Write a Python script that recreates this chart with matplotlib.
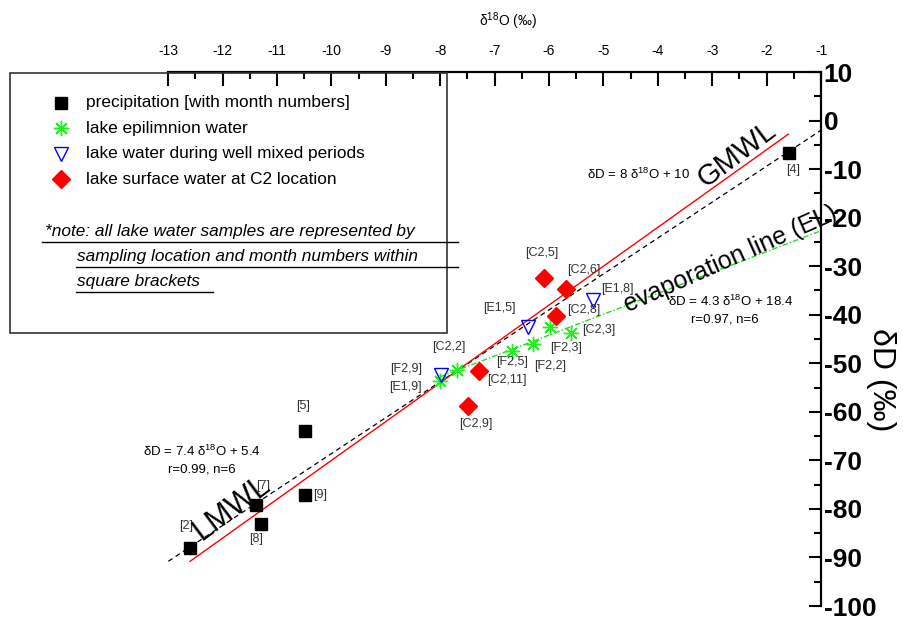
import matplotlib
matplotlib.use("Agg")
import matplotlib.pyplot as plt
from matplotlib.patches import Rectangle
from matplotlib.lines import Line2D
from matplotlib.ticker import MultipleLocator

plt.rcParams['font.family'] = ['Liberation Sans', 'DejaVu Sans']
plt.rcParams['axes.unicode_minus'] = False
plt.rcParams['mathtext.fontset'] = 'custom'
plt.rcParams['mathtext.rm'] = 'Liberation Sans'
plt.rcParams['mathtext.it'] = 'Liberation Sans:italic'
plt.rcParams['mathtext.bf'] = 'Liberation Sans:bold'

# precipitation, month numbers
precip_labels = ['[2]', '[7]', '[8]', '[5]', '[9]', '[4]']
precip_x = [-12.60, -11.39, -11.30, -10.49, -10.49, -1.58]
precip_y = [-88.0, -79.1, -83.1, -64.0, -77.1, -6.6]
precip_off = [(-4, 22), (7, 19), (-5, -15), (-2, 25), (15, 0), (4, -17)]

# lake epilimnion water
epi_labels = ['[F2,9]', '[C2,2]', '[F2,5]', '[F2,2]', '[F2,3]', '[C2,3]']
epi_x = [-8.00, -7.69, -6.68, -6.29, -5.98, -5.60]
epi_y = [-53.7, -51.3, -47.4, -46.0, -42.5, -43.7]
epi_off = [(-34, 12), (-8, 23), (0, -11), (17, -22), (16, -21), (28, 3)]

# well mixed periods
mixed_labels = ['[E1,9]', '[E1,5]', '[E1,8]']
mixed_x = [-7.99, -6.39, -5.19]
mixed_y = [-52.5, -42.5, -37.0]
mixed_off = [(-35, -12), (-28, 19), (24, 11)]

# surface water at C2
c2_labels = ['[C2,5]', '[C2,6]', '[C2,8]', '[C2,11]', '[C2,9]']
c2_x = [-6.09, -5.69, -5.88, -7.29, -7.49]
c2_y = [-32.5, -34.8, -40.2, -51.5, -58.9]
c2_off = [(-2, 25), (18, 19), (28, 6), (28, -9), (8, -18)]

# line end points
lmwl_x = [-13.0, -1.0]
lmwl_y = [-90.8, -2.0]
gmwl_x = [-12.6, -1.6]
gmwl_y = [-90.8, -2.8]
el_x = [-8.0, -1.0]
el_y = [-52.8, -22.7]

W, H = 904, 620
fig = plt.figure(figsize=(9.04, 6.2), dpi=100)
ax = fig.add_axes([168.3 / W, 14 / H, (821 - 168.3) / W, 534 / H])
ax.set_xlim(-13, -1)
ax.set_ylim(-100, 10)

ax.plot(lmwl_x, lmwl_y, color='black', lw=0.9, ls=(0, (4, 3)))
ax.plot(gmwl_x, gmwl_y, color='red', lw=1.0)
ax.plot(el_x, el_y, color='#22dd22', lw=1.0, ls=(0, (4, 1.5, 1, 1.5)))

ax.plot(precip_x, precip_y, ls='none', marker='s', ms=8, color='black')
ax.plot(epi_x, epi_y, ls='none', marker=(8, 2, 0), ms=11, mew=1.0, color='#22ee22')
ax.plot(mixed_x, mixed_y, ls='none', marker='v', ms=10, mfc='none', mec='blue', mew=1.0)
ax.plot(c2_x, c2_y, ls='none', marker='D', ms=9, color='red')

for lab_list, xs, ys, offs in [(precip_labels, precip_x, precip_y, precip_off),
                               (epi_labels, epi_x, epi_y, epi_off),
                               (mixed_labels, mixed_x, mixed_y, mixed_off),
                               (c2_labels, c2_x, c2_y, c2_off)]:
    for lab, x, y, o in zip(lab_list, xs, ys, offs):
        ax.annotate(lab, (x, y), xytext=o, textcoords='offset pixels',
                    ha='center', va='center', fontsize=9, color='#333333')

# line names and equations
ax.text(-11.84, -79.9, 'LMWL', rotation=37, fontsize=22, ha='center', va='center')
ax.text(-2.54, -7.0, 'GMWL', rotation=37, fontsize=21, ha='center', va='center')
ax.text(-2.66, -28.6, 'evaporation line (EL)', rotation=24, fontsize=18, ha='center', va='center')
eq_kw = dict(ha='center', va='center', fontsize=9.5)
ax.text(-12.39, -68.1, r'$\mathregular{\delta}$D = 7.4 $\mathregular{\delta^{18}}$O + 5.4', **eq_kw)
ax.text(-12.39, -71.9, 'r=0.99, n=6', **eq_kw)
ax.text(-4.36, -11.1, r'$\mathregular{\delta}$D = 8 $\mathregular{\delta^{18}}$O + 10', **eq_kw)
ax.text(-2.67, -37.2, r'$\mathregular{\delta}$D = 4.3 $\mathregular{\delta^{18}}$O + 18.4', **eq_kw)
ax.text(-2.76, -41.0, 'r=0.97, n=6', **eq_kw)

# axes styling
ax.spines['left'].set_visible(False)
ax.spines['bottom'].set_visible(False)
ax.spines['top'].set_linewidth(1.6)
ax.spines['right'].set_linewidth(1.6)
ax.xaxis.tick_top()
ax.yaxis.tick_right()
ax.xaxis.set_major_locator(MultipleLocator(1))
ax.xaxis.set_minor_locator(MultipleLocator(0.5))
ax.yaxis.set_major_locator(MultipleLocator(10))
ax.yaxis.set_minor_locator(MultipleLocator(5))
ax.tick_params(axis='x', which='major', direction='in', length=10, width=1.5, labelsize=10, pad=10)
ax.tick_params(axis='x', which='minor', direction='in', length=5, width=1.5)
ax.tick_params(axis='y', which='major', direction='in', length=9, width=1.5, labelsize=19, pad=2)
ax.tick_params(axis='y', which='minor', direction='in', length=5, width=1.5)
for t in ax.get_yticklabels():
    t.set_fontweight('bold')

fig.text(508 / W, 1 - 21 / H, r'$\mathregular{\delta^{18}}$O (‰)', ha='center', va='center', fontsize=10)
fig.text(881 / W, 1 - 380 / H, 'δD (‰)', rotation=270, ha='center', va='center', fontsize=23)

# legend box
fig.add_artist(Rectangle((10 / W, 1 - 333 / H), 437 / W, 260 / H, transform=fig.transFigure,
                         fill=False, edgecolor='#333333', lw=1.2))
leg_names = ['precipitation [with month numbers]', 'lake epilimnion water',
             'lake water during well mixed periods', 'lake surface water at C2 location']
leg_styles = [dict(marker='s', ms=8, color='black'),
              dict(marker=(8, 2, 0), ms=11, mew=1.0, color='#22ee22'),
              dict(marker='v', ms=10, mfc='none', mec='blue', mew=1.0),
              dict(marker='D', ms=9, color='red')]
for i, (name, st) in enumerate(zip(leg_names, leg_styles)):
    yy = 1 - (102.7 + 25.5 * i) / H
    fig.add_artist(Line2D([61 / W], [yy], transform=fig.transFigure, ls='none', **st))
    fig.text(86 / W, yy, name, ha='left', va='center', fontsize=12.4)

note_lines = ['*note: all lake water samples are represented by',
              'sampling location and month numbers within',
              'square brackets']
note_x = [45, 77, 77]
note_y = [231.7, 256.7, 281.7]
ul_x0 = [42, 76, 76]
ul_x1 = [458, 458, 213]
for txt, nx, ny, a, b in zip(note_lines, note_x, note_y, ul_x0, ul_x1):
    fig.text(nx / W, 1 - ny / H, txt, ha='left', va='center', fontsize=12.4, style='italic')
    fig.add_artist(Line2D([a / W, b / W], [1 - (ny + 10) / H] * 2, transform=fig.transFigure,
                          color='black', lw=1.0))

fig.savefig('out.png', dpi=100)
